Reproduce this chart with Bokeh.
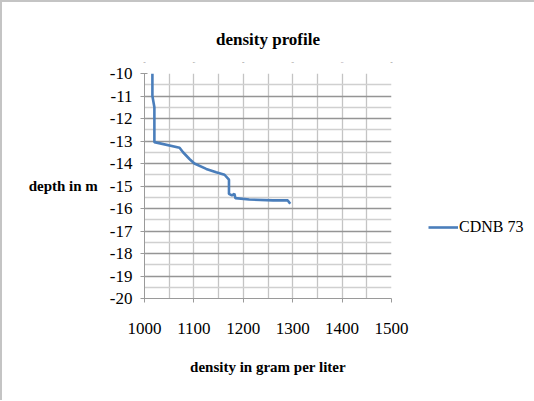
from bokeh.plotting import figure
from bokeh.models import (FixedTicker, Legend, LegendItem, Range1d, LinearAxis)
from bokeh.embed import file_html
from bokeh.resources import INLINE

# Data
density = [1016, 1016, 1020, 1020, 1071, 1078, 1091, 1101, 1125, 1145, 1162,
           1171, 1171, 1177, 1182, 1184, 1212, 1260, 1290, 1295]
depth = [-10.0, -11.0, -11.5, -13.05, -13.3, -13.5, -13.8, -14.0, -14.24, -14.39,
         -14.5, -14.72, -15.35, -15.42, -15.35, -15.54, -15.6, -15.64, -15.64, -15.79]
series_name = "CDNB 73"
chart_title = "density profile"
x_ticks = [1000, 1100, 1200, 1300, 1400, 1500]
x_minor = [1050, 1150, 1250, 1350, 1450]
y_ticks = [-20, -19, -18, -17, -16, -15, -14, -13, -12, -11, -10]
y_minor = [-19.5, -18.5, -17.5, -16.5, -15.5, -14.5, -13.5, -12.5, -11.5, -10.5]

FONT = "Liberation Serif"

p = figure(output_backend="svg", toolbar_location=None,
           frame_width=247, frame_height=225,
           min_border_left=142, min_border_right=140,
           min_border_top=71, min_border_bottom=102,
           x_range=Range1d(1000, 1500), y_range=Range1d(-20, -10))
p.outline_line_color = None
p.background_fill_color = "white"
p.border_fill_color = "white"
p.styles = {"border-left": "2px solid #c4c4c4", "border-top": "2px solid #c4c4c4"}

# title drawn as the label of an empty axis above the frame
top_axis = LinearAxis(ticker=FixedTicker(ticks=[]), axis_label=chart_title,
                      axis_line_color=None, major_tick_line_color=None,
                      minor_tick_line_color=None, major_label_text_font_size="1px",
                      axis_label_text_font=FONT, axis_label_text_font_size="17px",
                      axis_label_text_font_style="bold", axis_label_text_color="black",
                      axis_label_standoff=10)
p.add_layout(top_axis, "above")

# x axis
p.xaxis.ticker = FixedTicker(ticks=x_ticks, minor_ticks=x_minor)
xa = p.below[0]
xa.axis_label = "density in gram per liter"
xa.axis_label_text_font = FONT
xa.axis_label_text_font_size = "15px"
xa.axis_label_text_font_style = "bold"
xa.axis_label_text_color = "black"
xa.axis_label_standoff = 22
xa.major_label_text_font = FONT
xa.major_label_text_font_size = "17px"
xa.major_label_text_color = "black"
xa.major_label_standoff = 20
xa.axis_line_color = "#9a9a9a"
xa.major_tick_line_color = "#9a9a9a"
xa.major_tick_out = 4
xa.major_tick_in = 0
xa.minor_tick_line_color = None

# y axis
p.yaxis.ticker = FixedTicker(ticks=y_ticks, minor_ticks=y_minor)
p.yaxis.major_label_overrides = {t: "-%d" % abs(t) for t in y_ticks}
p.yaxis.axis_label = "depth in m"
p.yaxis.axis_label_orientation = "horizontal"
p.yaxis.axis_label_text_font = FONT
p.yaxis.axis_label_text_font_size = "15px"
p.yaxis.axis_label_text_font_style = "bold"
p.yaxis.axis_label_text_color = "black"
p.yaxis.axis_label_standoff = 9
p.yaxis.major_label_text_font = FONT
p.yaxis.major_label_text_font_size = "17px"
p.yaxis.major_label_text_color = "black"
p.yaxis.major_label_standoff = 8
p.yaxis.axis_line_color = "#9a9a9a"
p.yaxis.major_tick_line_color = "#9a9a9a"
p.yaxis.major_tick_out = 4
p.yaxis.major_tick_in = 3
p.yaxis.minor_tick_line_color = None

# grids
p.xgrid.grid_line_color = "#c4c4c4"
p.xgrid.grid_line_width = 1.3
p.xgrid.minor_grid_line_color = "#c4c4c4"
p.xgrid.minor_grid_line_width = 1.3
p.ygrid.grid_line_color = "#959595"
p.ygrid.grid_line_width = 1.5
p.ygrid.minor_grid_line_color = "#d0d0d0"
p.ygrid.minor_grid_line_width = 1.3

r = p.line(density, depth, line_color="#4a7ebb", line_width=2.6)

legend = Legend(items=[LegendItem(label=series_name, renderers=[r])],
                location=(37, 61), orientation="vertical",
                padding=0, margin=0, spacing=0,
                glyph_width=30, glyph_height=20, label_standoff=1,
                label_text_font=FONT, label_text_font_size="16px",
                label_text_color="black",
                border_line_color=None, background_fill_alpha=0)
p.add_layout(legend, "right")

open("out.html", "w").write(file_html(p, INLINE))
